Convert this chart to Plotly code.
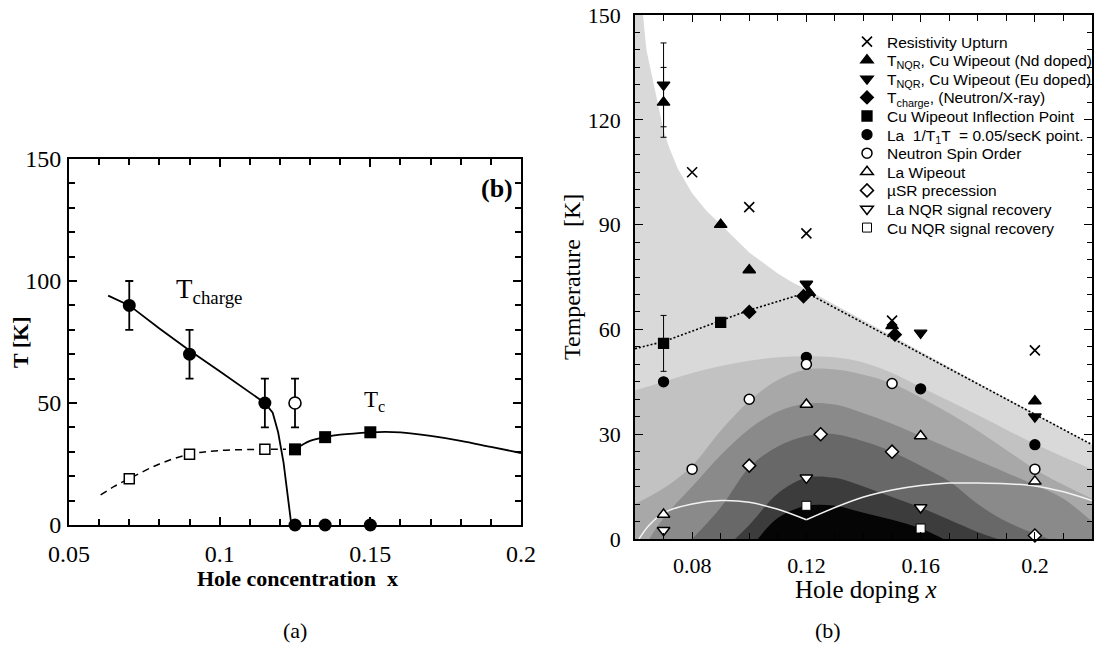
import plotly.graph_objects as go

# ---------------- panel (a): charge order and Tc ----------------
a_charge_x = [0.07, 0.09, 0.115]
a_charge_T = [90, 70, 50]
a_charge_err = [10, 10, 10]
a_open_x = [0.125]
a_open_T = [50]
a_open_err = [10]
a_zero_x = [0.125, 0.135, 0.15]
a_zero_T = [0, 0, 0]
a_sq_open_x = [0.07, 0.09, 0.115]
a_sq_open_T = [19, 29, 31]
a_sq_x = [0.125, 0.135, 0.15]
a_sq_T = [31, 36, 38]

a_charge_line_x = [0.063, 0.07, 0.08, 0.09, 0.1, 0.11, 0.115, 0.1176, 0.1194, 0.1212, 0.1226, 0.1238]
a_charge_line_T = [94, 90, 80.5, 71.5, 63, 54.5, 50, 46, 38, 25.6, 12, 0]
a_dash_x = [0.0605, 0.065, 0.07, 0.08, 0.09, 0.1, 0.115, 0.122]
a_dash_T = [12.3, 15.8, 19, 25, 29, 30.5, 31, 31]
a_tc_line_x = [0.125, 0.13, 0.135, 0.14, 0.15, 0.155, 0.16, 0.17, 0.18, 0.19, 0.2]
a_tc_line_T = [31, 34.5, 36, 37, 38, 38.2, 38, 36.5, 34.5, 32, 29.5]

# ---------------- panel (b): phase diagram ----------------
resist_x = [0.08, 0.10, 0.12, 0.15, 0.20]
resist_T = [105, 95, 87.5, 62.5, 54]
nd_x = [0.07, 0.09, 0.10, 0.121, 0.15, 0.20]
nd_T = [125, 90, 77, 70.5, 61, 39.5]
nd_err = [10, 0, 0, 0, 0, 0]
eu_x = [0.07, 0.12, 0.16, 0.20]
eu_T = [130, 73, 59, 35]
eu_err = [12, 0, 0, 0]
tch_x = [0.10, 0.119, 0.151]
tch_T = [65, 69.5, 58.5]
infl_x = [0.07, 0.09]
infl_T = [56, 62]
infl_err = [8, 0]
la_t1_x = [0.07, 0.12, 0.16, 0.20]
la_t1_T = [45, 52, 43, 27]
spin_x = [0.08, 0.10, 0.12, 0.15, 0.20]
spin_T = [20, 40, 50, 44.5, 20]
la_wipe_x = [0.07, 0.12, 0.16, 0.20]
la_wipe_T = [7, 38.5, 29.5, 16.5]
musr_x = [0.10, 0.125, 0.15, 0.20]
musr_T = [21, 30, 25, 1]
la_rec_x = [0.07, 0.12, 0.16]
la_rec_T = [2.5, 17.5, 9]
cu_rec_x = [0.12, 0.16]
cu_rec_T = [9.5, 3]

# dotted guide line through the charge-order temperatures
dot_x = [0.06, 0.07, 0.08, 0.09, 0.10, 0.11, 0.12, 0.22]
dot_T = [54.5, 56.5, 59.5, 62.5, 65.5, 68, 70.5, 27]

# shaded region boundaries (outermost first)
b0_x = [0.06, 0.0628, 0.064, 0.066, 0.068, 0.07, 0.072, 0.075, 0.08, 0.085, 0.09, 0.095,
        0.10, 0.105, 0.11, 0.115, 0.12, 0.22]
b0_T = [150, 150, 140, 132, 124, 117, 112, 106, 99, 94, 90, 86, 82, 79, 76, 73.5, 71.5, 27]
b1_x = [0.06, 0.07, 0.08, 0.09, 0.10, 0.11, 0.12, 0.13, 0.14, 0.15, 0.16, 0.17, 0.18, 0.19, 0.20, 0.21, 0.22]
b1_T = [42.5, 45, 47.5, 49.5, 51, 52, 52.3, 52, 50.5, 47.5, 43.5, 39.5, 35.5, 31.3, 27.2, 23.5, 20]
b2_x = [0.06, 0.07, 0.08, 0.09, 0.10, 0.11, 0.12, 0.13, 0.14, 0.15, 0.16, 0.17, 0.18, 0.19, 0.20, 0.21, 0.22]
b2_T = [10, 14.5, 21, 31, 39.5, 45.5, 48.5, 48.5, 47, 44.5, 40.5, 36, 31, 25.5, 20, 15.5, 11.5]
b3_x = [0.065, 0.07, 0.08, 0.09, 0.10, 0.11, 0.12, 0.13, 0.14, 0.15, 0.16, 0.17, 0.18, 0.19, 0.20, 0.21, 0.22]
b3_T = [0, 6, 15, 24, 31.5, 36.5, 38.8, 38.5, 36, 33, 29.5, 26, 22.5, 19, 15.5, 11.5, 5]
b4_x = [0.08, 0.09, 0.10, 0.11, 0.12, 0.125, 0.13, 0.14, 0.15, 0.16, 0.17, 0.18, 0.19, 0.20, 0.205]
b4_T = [0, 9, 20.5, 26.5, 29.5, 30, 30, 28, 25, 21, 16.5, 10, 5, 1.5, 0]
b5_x = [0.095, 0.10, 0.11, 0.12, 0.13, 0.14, 0.15, 0.16, 0.17, 0.18, 0.187]
b5_T = [0, 4, 13, 17.5, 17.5, 15, 12, 9, 5.5, 2, 0]
b6_x = [0.103, 0.11, 0.12, 0.13, 0.14, 0.15, 0.16, 0.168]
b6_T = [0, 6, 9.5, 9.5, 7.5, 5.5, 3, 0]
band_colors = ["#d9d9d9", "#c2c2c2", "#a8a8a8", "#8a8a8a", "#686868", "#3c3c3c", "#050505"]

# white superconducting dome line (two arcs meeting at x = 0.12)
sc_x = [0.0614, 0.065, 0.07, 0.08, 0.09, 0.10, 0.11, 0.12, None,
        0.12, 0.13, 0.14, 0.15, 0.16, 0.17, 0.18, 0.19, 0.20, 0.21, 0.22]
sc_T = [0, 4, 7.5, 10, 11, 10.5, 8.5, 5.5, None,
        5.5, 9, 12, 14, 15.3, 16, 16, 15.8, 15.2, 13.5, 11]

SERIF = "Liberation Serif, Times New Roman, serif"
SANS = "Liberation Sans, Arial, Helvetica, sans-serif"
W, H = 1101, 657

fig = go.Figure()

# ---- panel (a) traces ----
fig.add_trace(go.Scatter(x=a_charge_line_x, y=a_charge_line_T, mode="lines",
                         line=dict(color="black", width=1.8), showlegend=False,
                         xaxis="x", yaxis="y"))
fig.add_trace(go.Scatter(x=a_dash_x, y=a_dash_T, mode="lines",
                         line=dict(color="black", width=1.5, dash="7px,5px", shape="spline"),
                         showlegend=False, xaxis="x", yaxis="y"))
fig.add_trace(go.Scatter(x=a_tc_line_x, y=a_tc_line_T, mode="lines",
                         line=dict(color="black", width=1.8, shape="spline"),
                         showlegend=False, xaxis="x", yaxis="y"))
fig.add_trace(go.Scatter(x=a_charge_x, y=a_charge_T, mode="markers",
                         marker=dict(symbol="circle", size=13, color="black"),
                         error_y=dict(type="data", array=a_charge_err, color="black", thickness=1.8, width=4),
                         showlegend=False, cliponaxis=False, xaxis="x", yaxis="y"))
fig.add_trace(go.Scatter(x=a_open_x, y=a_open_T, mode="markers",
                         marker=dict(symbol="circle", size=12, color="white", line=dict(color="black", width=1.6)),
                         error_y=dict(type="data", array=a_open_err, color="black", thickness=1.8, width=4),
                         showlegend=False, cliponaxis=False, xaxis="x", yaxis="y"))
fig.add_trace(go.Scatter(x=a_zero_x, y=a_zero_T, mode="markers",
                         marker=dict(symbol="circle", size=13, color="black"),
                         showlegend=False, cliponaxis=False, xaxis="x", yaxis="y"))
fig.add_trace(go.Scatter(x=a_sq_open_x, y=a_sq_open_T, mode="markers",
                         marker=dict(symbol="square", size=10, color="white", line=dict(color="black", width=1.5)),
                         showlegend=False, cliponaxis=False, xaxis="x", yaxis="y"))
fig.add_trace(go.Scatter(x=a_sq_x, y=a_sq_T, mode="markers",
                         marker=dict(symbol="square", size=12, color="black"),
                         showlegend=False, cliponaxis=False, xaxis="x", yaxis="y"))

# ---- panel (b) shaded bands ----
for bx, bT, col in zip([b0_x, b1_x, b2_x, b3_x, b4_x, b5_x, b6_x],
                       [b0_T, b1_T, b2_T, b3_T, b4_T, b5_T, b6_T], band_colors):
    fig.add_trace(go.Scatter(x=bx, y=bT, mode="lines", fill="tozeroy", fillcolor=col,
                             line=dict(width=0, color=col, shape="linear" if bx is b0_x else "spline"),
                             showlegend=False, hoverinfo="skip", xaxis="x2", yaxis="y2"))

fig.add_trace(go.Scatter(x=sc_x, y=sc_T, mode="lines", connectgaps=False,
                         line=dict(color="#f2f2f2", width=1.5, shape="spline"),
                         showlegend=False, xaxis="x2", yaxis="y2"))
fig.add_trace(go.Scatter(x=dot_x, y=dot_T, mode="lines",
                         line=dict(color="black", width=1.6, dash="2px,2px"),
                         showlegend=False, xaxis="x2", yaxis="y2"))

# each legend row gets its own legend box so the row pitch can follow the original
legend_row_px = [42, 60.6, 79.2, 97.8, 116.4, 135, 153.6, 172.2, 190.8, 209.4, 228]
legend_layouts = {}
legend_count = [0]


def add_b(name, xs, ys, symbol, size, fill, err=None, lw=1.3):
    marker = dict(symbol=symbol, size=size, color=fill, line=dict(color="black", width=lw))
    kw = {}
    if err is not None:
        kw["error_y"] = dict(type="data", array=err, color="black", thickness=1, width=3)
    i = legend_count[0]
    key = "legend" if i == 0 else f"legend{i + 1}"
    legend_count[0] += 1
    legend_layouts[key] = dict(x=847 / W, y=1 - legend_row_px[i] / H, xanchor="left", yanchor="middle",
                               bgcolor="rgba(0,0,0,0)", borderwidth=0,
                               font=dict(family=SANS, size=15.5, color="black"),
                               itemclick=False, itemdoubleclick=False)
    fig.add_trace(go.Scatter(x=xs, y=ys, mode="markers", name=name, marker=marker, legend=key,
                             cliponaxis=False, xaxis="x2", yaxis="y2", **kw))


add_b("Resistivity Upturn", resist_x, resist_T, "x-thin", 10, "black", lw=1.6)
add_b("T<sub>NQR</sub>, Cu Wipeout (Nd doped)", nd_x, nd_T, "triangle-up", 11, "black", err=nd_err)
add_b("T<sub>NQR</sub>, Cu Wipeout (Eu doped)", eu_x, eu_T, "triangle-down", 11, "black", err=eu_err)
add_b("T<sub>charge</sub>, (Neutron/X-ray)", tch_x, tch_T, "diamond", 10, "black")
add_b("Cu Wipeout Inflection Point", infl_x, infl_T, "square", 10, "black", err=infl_err)
add_b("La  1/T<sub>1</sub>T  = 0.05/secK point.", la_t1_x, la_t1_T, "circle", 10, "black")
add_b("Neutron Spin Order", spin_x, spin_T, "circle", 10, "white", lw=1.5)
add_b("La Wipeout", la_wipe_x, la_wipe_T, "triangle-up", 11, "white", lw=1.5)
add_b("\u00b5SR precession", musr_x, musr_T, "diamond", 10, "white", lw=1.5)
add_b("La NQR signal recovery", la_rec_x, la_rec_T, "triangle-down", 11, "white", lw=1.5)
add_b("Cu NQR signal recovery", cu_rec_x, cu_rec_T, "square", 9, "white", lw=1)


# ---- axes ----
def axis_common(lw):
    return dict(showline=True, linecolor="black", linewidth=lw, mirror="ticks", automargin=False,
                ticks="inside", tickcolor="black", showgrid=False, zeroline=False)


fig.update_layout(
    width=W, height=H,
    margin=dict(l=0, r=0, t=0, b=0, autoexpand=False),
    paper_bgcolor="white", plot_bgcolor="white",
    xaxis=dict(domain=[69 / W, 521 / W], range=[0.05, 0.2], anchor="y",
               tickvals=[0.05, 0.1, 0.15, 0.2], ticktext=["0.05", "0.1", "0.15", "0.2"],
               ticklen=8, tickwidth=2, ticklabelstandoff=6,
               minor=dict(dtick=0.01, tick0=0.05, ticks="inside", ticklen=6, tickwidth=1.5, tickcolor="black"),
               tickfont=dict(family=SERIF, size=24, color="black"), **axis_common(2)),
    yaxis=dict(domain=[1 - 525 / H, 1 - 159 / H], range=[0, 150], anchor="x",
               tickvals=[0, 50, 100, 150], ticklen=8, tickwidth=2, ticklabelstandoff=1,
               minor=dict(dtick=10, tick0=0, ticks="inside", ticklen=6, tickwidth=1.5, tickcolor="black"),
               tickfont=dict(family=SERIF, size=24, color="black"), **axis_common(2)),
    xaxis2=dict(domain=[635 / W, 1092 / W], range=[0.06, 0.22], anchor="y2",
                tickvals=[0.08, 0.12, 0.16, 0.2], ticktext=["0.08", "0.12", "0.16", "0.2"],
                ticklen=7, tickwidth=1.3, ticklabelstandoff=6,
                minor=dict(dtick=0.01, tick0=0.06, ticks="inside", ticklen=6, tickwidth=1.3, tickcolor="black"),
                tickfont=dict(family=SERIF, size=22, color="black"), **axis_common(1.5)),
    yaxis2=dict(domain=[1 - 539 / H, 1 - 15 / H], range=[0, 150], anchor="x2",
                tickvals=[0, 30, 60, 90, 120, 150], ticklen=8, tickwidth=1.3, ticklabelstandoff=8,
                minor=dict(dtick=5, tick0=0, ticks="inside", ticklen=5, tickwidth=1.3, tickcolor="black"),
                tickfont=dict(family=SERIF, size=22, color="black"), **axis_common(1.5)),
    showlegend=True,
    **legend_layouts,
)


def paper_note(px, py, text, size, angle=0, family=SERIF):
    return dict(x=px / W, y=1 - py / H, xref="paper", yref="paper", text=text, showarrow=False,
                xanchor="center", yanchor="middle", textangle=angle,
                font=dict(family=family, size=size, color="black"))


annotations = [
    # panel (a) labels
    dict(x=0.0965, y=96, xref="x", yref="y", text="T<sub>charge</sub>", showarrow=False,
         xanchor="center", yanchor="middle", font=dict(family=SERIF, size=27, color="black")),
    dict(x=0.1515, y=51, xref="x", yref="y", text="T<sub>c</sub>", showarrow=False,
         xanchor="center", yanchor="middle", font=dict(family=SERIF, size=23, color="black")),
    paper_note(497, 188, "<b>(b)</b>", 26),
    paper_note(20, 342, "<b>T [K]</b>", 22, angle=-90),
    paper_note(297, 578, "<b>Hole concentration  x</b>", 22),
    # panel (b) titles
    paper_note(572, 277, "Temperature  [K]", 24, angle=-90),
    paper_note(866, 589, "Hole doping <i>x</i>", 25),
    # captions
    paper_note(295, 630, "(a)", 22),
    paper_note(828, 630, "(b)", 22),
]
fig.update_layout(annotations=annotations)

fig.write_html("out.html")
